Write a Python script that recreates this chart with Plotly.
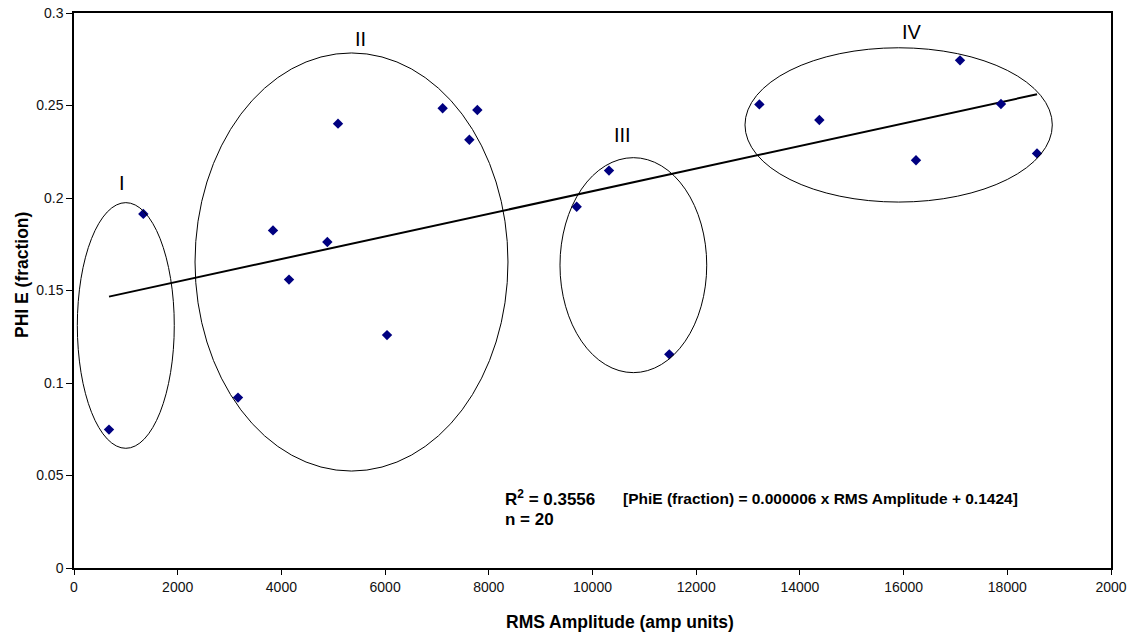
import numpy as np
import plotly.graph_objects as go

# Data
rms_amplitude = [675, 1337, 3163, 3838, 4147, 4886, 5092, 6037, 7110, 7625, 7779,
                 9695, 10318, 11481, 13218, 14375, 16239, 17088, 17878, 18573]
phie_fraction = [0.0748, 0.1914, 0.0921, 0.1825, 0.1559, 0.1762, 0.2402, 0.1259, 0.2485, 0.2315, 0.2476,
                 0.1953, 0.2148, 0.1155, 0.2506, 0.2422, 0.2204, 0.2744, 0.2508, 0.2241]

x_tickvals = [0, 2000, 4000, 6000, 8000, 10000, 12000, 14000, 16000, 18000, 20000]
x_ticktext = ["0", "2000", "4000", "6000", "8000", "10000", "12000", "14000", "16000", "18000", "2000"]
y_tickvals = [0, 0.05, 0.1, 0.15, 0.2, 0.25, 0.3]
y_ticktext = ["0", "0.05", "0.1", "0.15", "0.2", "0.25", "0.3"]

group_labels = ["I", "II", "III", "IV"]

# Linear trend from the data
slope, intercept = np.polyfit(rms_amplitude, phie_fraction, 1)
trend_x = [min(rms_amplitude), max(rms_amplitude)]
trend_y = [slope * v + intercept for v in trend_x]

FONT = "Liberation Sans, Arial, sans-serif"

fig = go.Figure()
fig.add_trace(go.Scatter(x=trend_x, y=trend_y, mode="lines",
                         line=dict(color="black", width=2), showlegend=False, hoverinfo="skip"))
fig.add_trace(go.Scatter(x=rms_amplitude, y=phie_fraction, mode="markers",
                         marker=dict(symbol="diamond", color="#000080", size=8), showlegend=False))

ellipses = [
    (64, 1934, 0.0647, 0.1975),
    (2334, 8370, 0.0524, 0.2784),
    (9373, 12203, 0.1056, 0.2218),
    (12941, 18868, 0.1978, 0.2812),
]
for x0, x1, y0, y1 in ellipses:
    fig.add_shape(type="circle", xref="x", yref="y", x0=x0, x1=x1, y0=y0, y1=y1,
                  line=dict(color="black", width=1))

label_pos = [(932, 0.208), (5535, 0.2859), (10575, 0.2341), (16167, 0.2896)]
for lab, (lx, ly) in zip(group_labels, label_pos):
    fig.add_annotation(x=lx, y=ly, text=lab, showarrow=False,
                       font=dict(family=FONT, size=20, color="black"))

ann_font = dict(family=FONT, size=17, color="black")
fig.add_annotation(x=8274, y=0.0378, xanchor="left", yanchor="middle",
                   text="<b>R<sup>2</sup> = 0.3556</b>", showarrow=False, font=ann_font)
fig.add_annotation(x=8274, y=0.0260, xanchor="left", yanchor="middle",
                   text="<b>n = 20</b>", showarrow=False, font=ann_font)
fig.add_annotation(x=10550, y=0.0378, xanchor="left", yanchor="middle",
                   text="<b>[PhiE (fraction) = 0.000006 x RMS Amplitude + 0.1424]</b>",
                   showarrow=False, font=dict(family=FONT, size=15.5, color="black"))

# Axis titles
title_font = dict(family=FONT, size=17.5, color="black")
fig.add_annotation(x=0.5265, y=-0.0973, xref="paper", yref="paper", xanchor="center", yanchor="middle",
                   text="<b>RMS Amplitude (amp units)</b>", showarrow=False, font=title_font)
fig.add_annotation(x=-0.0501, y=0.528, xref="paper", yref="paper", xanchor="center", yanchor="middle",
                   text="<b>PHI E (fraction)</b>", textangle=-90, showarrow=False, font=title_font)

fig.update_layout(
    width=1129, height=633,
    margin=dict(l=74, r=18, t=13, b=65),
    paper_bgcolor="white", plot_bgcolor="white",
    font=dict(family=FONT, size=14, color="#111111"),
    xaxis=dict(range=[0, 20000], tickvals=x_tickvals, ticktext=x_ticktext, automargin=False,
               ticklabeloverflow="allow",
               showline=True, linecolor="black", linewidth=1.5, mirror=True,
               ticks="outside", ticklen=5, tickcolor="black", showgrid=False, zeroline=False),
    yaxis=dict(range=[0, 0.3], tickvals=y_tickvals, ticktext=y_ticktext, automargin=False,
               ticklabeloverflow="allow",
               showline=True, linecolor="black", linewidth=1.5, mirror=True,
               ticks="outside", ticklen=6, tickcolor="black", showgrid=False, zeroline=False),
)

# Remove the default page margin so the figure fills the window exactly
fig.write_html("out.html", config={"displayModeBar": False},
               post_script="document.body.style.margin='0px';document.body.style.overflow='hidden';")
